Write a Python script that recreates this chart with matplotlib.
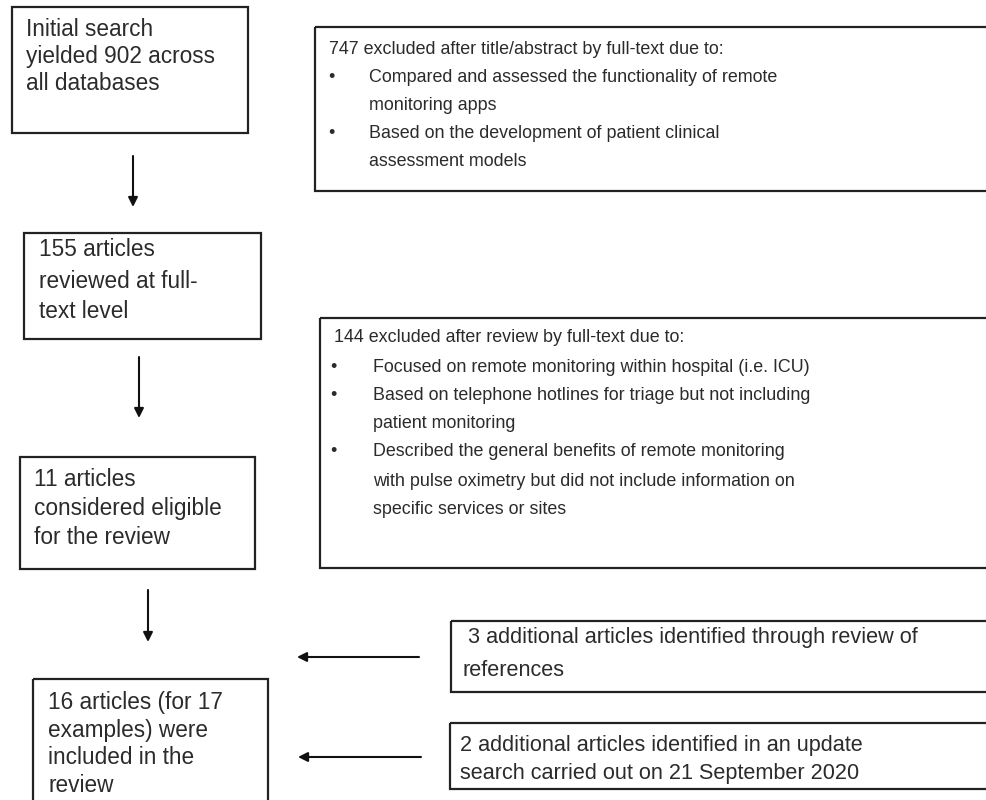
import matplotlib.pyplot as plt
from matplotlib.patches import Rectangle

# flowchart content
left_texts = [
    ['Initial search', 'yielded 902 across', 'all databases'],
    ['155 articles', 'reviewed at full-', 'text level'],
    ['11 articles', 'considered eligible', 'for the review'],
    ['16 articles (for 17', 'examples) were', 'included in the', 'review'],
]
excl1_head = '747 excluded after title/abstract by full-text due to:'
excl1_items = [
    ['Compared and assessed the functionality of remote', 'monitoring apps'],
    ['Based on the development of patient clinical', 'assessment models'],
]
excl2_head = '144 excluded after review by full-text due to:'
excl2_items = [
    ['Focused on remote monitoring within hospital (i.e. ICU)'],
    ['Based on telephone hotlines for triage but not including', 'patient monitoring'],
    ['Described the general benefits of remote monitoring',
     'with pulse oximetry but did not include information on',
     'specific services or sites'],
]
add_texts = [
    [' 3 additional articles identified through review of', 'references'],
    ['2 additional articles identified in an update', 'search carried out on 21 September 2020'],
]

# layout in pixels (x0, y0, x1, y1)
left_boxes = [(12, 7, 248, 133), (24, 233, 261, 339), (20, 457, 255, 569), (33, 679, 268, 812)]
left_text_x = [26, 39, 34, 48]
left_line_y = [[29, 56, 83], [249, 281, 312], [480, 509, 537], [702, 731, 758, 785]]
down_arrows = [(133, 156, 207), (139, 357, 418), (148, 590, 642)]

excl1_box = (315, 27, 995, 191)
excl1_y = [49, 78, 105, 134, 161]
excl2_box = (320, 318, 995, 568)
excl2_y = [338, 367, 396, 423, 452, 481, 510]
add_boxes = [(451, 621, 995, 692), (450, 723, 995, 789)]
add_x = [462, 460]
add_y = [[638, 671], [745, 773]]
side_arrows = [(419, 297, 657), (421, 298, 757)]

plt.rcParams['font.family'] = ['Liberation Sans', 'DejaVu Sans']
txt_col = '#2b2b2b'
edge_col = '#222222'

fig = plt.figure(figsize=(9.87, 8.0), dpi=100)
ax = fig.add_axes([0, 0, 1, 1])
ax.set_xlim(0, 987)
ax.set_ylim(800, 0)
ax.axis('off')


def box(b):
    x0, y0, x1, y1 = b
    ax.add_patch(Rectangle((x0, y0), x1 - x0, y1 - y0, fill=False,
                           edgecolor=edge_col, linewidth=1.6))


def arrow(x0, y0, x1, y1):
    ax.annotate('', xy=(x1, y1), xytext=(x0, y0),
                arrowprops=dict(arrowstyle='-|>', color='#111111', lw=1.5,
                                mutation_scale=14, shrinkA=0, shrinkB=0))


for b, lines, tx, ys in zip(left_boxes, left_texts, left_text_x, left_line_y):
    box(b)
    for line, y in zip(lines, ys):
        ax.text(tx, y, line, fontsize=16.3, color=txt_col, va='center', ha='left')

for x, y0, y1 in down_arrows:
    arrow(x, y0, x, y1)


def excl(b, head, items, ys, hx, bx, tx):
    box(b)
    ax.text(hx, ys[0], head, fontsize=12.9, color=txt_col, va='center', ha='left')
    k = 1
    for item in items:
        ax.text(bx, ys[k], '\u2022', fontsize=13, color=txt_col, va='center', ha='left')
        for line in item:
            ax.text(tx, ys[k], line, fontsize=12.9, color=txt_col, va='center', ha='left')
            k += 1


excl(excl1_box, excl1_head, excl1_items, excl1_y, 329, 328, 369)
excl(excl2_box, excl2_head, excl2_items, excl2_y, 334, 330, 373)

for b, lines, tx, ys in zip(add_boxes, add_texts, add_x, add_y):
    box(b)
    for line, y in zip(lines, ys):
        ax.text(tx, y, line, fontsize=15.6, color=txt_col, va='center', ha='left')

for x0, x1, y in side_arrows:
    arrow(x0, y, x1, y)

fig.savefig('out.png', dpi=100)
